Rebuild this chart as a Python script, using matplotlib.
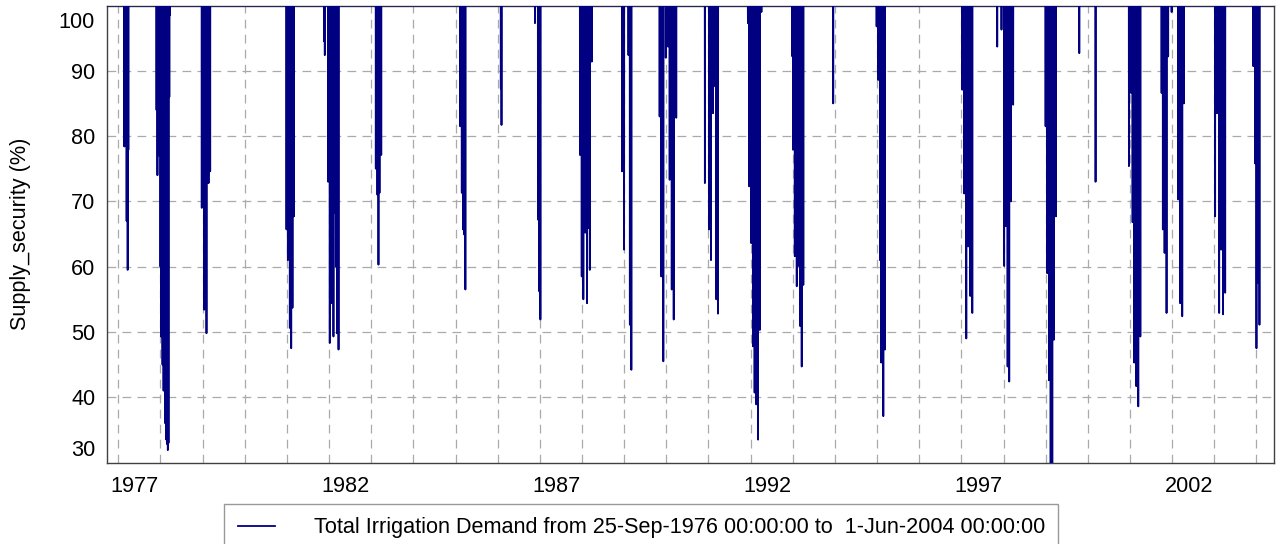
"""Supply security of the total irrigation demand, Sep 1976 - Jun 2004."""

import matplotlib
import numpy as np
import pandas as pd

matplotlib.use("Agg")
import matplotlib.dates as mdates
import matplotlib.pyplot as plt
from matplotlib.ticker import NullFormatter

plt.rcParams["font.family"] = ["Liberation Sans", "DejaVu Sans"]

START = "1976-09-25"
END = "2004-06-01"
SERIES_LABEL = "Total Irrigation Demand from 25-Sep-1976 00:00:00 to  1-Jun-2004 00:00:00"

# days on which supply fell below 100 % (all other days are 100 %)
dip_dates = [
    "1977-02-22", "1977-03-02", "1977-03-14", "1977-03-23", "1977-03-29",
    "1977-11-28", "1977-12-06", "1977-12-21", "1978-01-01", "1978-01-07", "1978-01-19",
    "1978-01-28", "1978-02-12", "1978-02-20", "1978-03-01", "1978-03-06", "1978-03-12",
    "1978-03-19", "1978-03-25",
    "1978-12-25", "1979-01-03", "1979-01-15", "1979-01-26", "1979-02-04", "1979-02-13",
    "1979-02-22", "1979-03-08",
    "1980-12-28", "1981-01-09", "1981-01-18", "1981-01-26", "1981-02-07", "1981-02-18",
    "1981-03-02",
    "1981-11-20", "1981-11-25", "1981-12-24", "1982-01-07", "1982-01-19", "1982-01-30",
    "1982-02-08", "1982-02-20", "1982-03-01", "1982-03-10", "1982-03-24",
    "1983-02-10", "1983-02-24", "1983-03-05", "1983-03-14", "1983-03-29",
    "1985-02-10", "1985-02-24", "1985-03-07", "1985-03-18", "1985-03-27",
    "1986-01-28", "1986-02-03",
    "1986-11-20", "1986-12-16", "1986-12-28", "1987-01-06",
    "1987-12-15", "1987-12-30", "1988-01-13", "1988-01-30", "1988-02-14", "1988-02-25",
    "1988-03-09", "1988-03-26",
    "1988-12-13", "1988-12-31", "1989-02-07", "1989-02-19", "1989-03-04",
    "1989-11-04", "1989-11-18", "1989-12-06", "1989-12-27", "1990-01-16", "1990-01-30",
    "1990-02-17", "1990-03-06", "1990-03-28",
    "1990-12-01", "1991-01-06", "1991-01-23", "1991-02-10", "1991-03-01", "1991-03-10",
    "1991-03-25",
    "1991-12-09", "1991-12-20", "1992-01-07", "1992-01-21", "1992-02-05", "1992-02-19",
    "1992-03-06", "1992-03-21", "1992-04-04",
    "1992-12-28", "1993-01-03", "1993-01-18", "1993-02-04", "1993-02-18", "1993-03-05",
    "1993-03-19", "1993-04-02",
    "1993-12-17",
    "1994-12-28", "1995-01-11", "1995-01-26", "1995-02-06", "1995-02-24", "1995-03-10",
    "1997-01-08", "1997-01-25", "1997-02-12", "1997-03-01", "1997-03-18", "1997-04-05",
    "1997-11-07", "1997-12-14", "1998-01-06", "1998-01-21", "1998-02-05", "1998-02-19",
    "1998-03-05", "1998-03-25",
    "1998-12-31", "1999-01-14", "1999-01-29", "1999-02-13", "1999-02-27", "1999-03-13",
    "1999-03-31",
    "1999-10-19", "2000-03-08",
    "2000-12-22", "2001-01-09", "2001-01-23", "2001-02-06", "2001-02-23", "2001-03-13",
    "2001-03-31",
    "2001-10-01", "2001-10-12", "2001-10-27", "2001-11-13", "2001-11-27", "2001-12-27",
    "2002-02-22", "2002-03-11", "2002-03-29", "2002-04-12",
    "2003-01-08", "2003-01-25", "2003-02-12", "2003-03-01", "2003-03-18", "2003-04-05",
    "2003-12-05", "2003-12-20", "2004-01-01", "2004-01-12", "2004-01-27",
]
dip_values = [
    78.4, 78.5, 67.0, 59.5, 77.9,
    84.0, 74.0, 77.0, 60.0, 49.3, 45.0,
    41.0, 36.0, 33.5, 32.8, 31.9, 33.0,
    86.0, 98.5,
    69.0, 80.0, 53.4, 62.0, 49.8, 80.5,
    72.8, 74.6,
    65.7, 61.0, 72.0, 50.6, 47.5, 53.7,
    67.7,
    94.5, 92.4, 73.0, 48.3, 54.4, 88.9,
    49.3, 68.2, 60.0, 49.8, 47.3,
    75.0, 71.0, 60.3, 71.3, 77.1,
    81.5, 71.3, 65.7, 64.9, 56.5,
    87.3, 81.7,
    97.3, 67.2, 56.2, 51.9,
    77.1, 58.5, 55.0, 65.2, 54.4, 65.9,
    59.5, 91.4,
    74.6, 62.6, 92.4, 51.1, 44.2,
    83.0, 58.5, 45.5, 92.0, 93.7, 73.3,
    56.5, 51.9, 82.8,
    72.8, 65.7, 61.0, 83.5, 87.6, 55.0,
    52.8,
    97.3, 72.3, 63.6, 47.8, 40.7, 38.9,
    33.5, 50.3, 99.0,
    92.2, 77.9, 61.6, 57.0, 60.1, 50.9,
    44.7, 57.2,
    85.0,
    96.8, 88.6, 61.0, 45.3, 37.1, 47.3,
    87.1, 71.2, 49.0, 63.1, 55.5, 52.9,
    93.7, 96.3, 60.1, 66.2, 44.7, 42.4,
    70.0, 84.8,
    81.5, 59.0, 42.6, 28.0, 28.5, 48.8,
    67.7,
    92.7, 73.0,
    75.4, 86.6, 66.8, 45.3, 41.7, 38.6,
    49.3,
    86.6, 65.7, 62.1, 52.9, 92.2, 99.0,
    70.3, 54.4, 52.4, 85.0,
    67.7, 83.5, 52.9, 62.6, 52.7, 56.0,
    90.7, 75.8, 47.5, 57.5, 51.1,
]

label_years = [1977, 1982, 1987, 1992, 1997, 2002]
y_ticks = [40, 50, 60, 70, 80, 90]
y_edge_ticks = [100, 30]

FS = 15.6
NAVY = "#000080"
GRID = "#aaaaaa"

days = pd.date_range(START, END, freq="D")
supply = pd.Series(100.0, index=days)
supply.loc[pd.to_datetime(dip_dates)] = dip_values

fig = plt.figure(figsize=(12.76, 5.44), dpi=100)
ax = fig.add_axes([107 / 1276, 1 - 462.5 / 544, 1167 / 1276, 457 / 544])

ax.plot(supply.index, supply.values, color=NAVY, lw=1.3, zorder=3, label=SERIES_LABEL)

ax.set_xlim(pd.Timestamp(START), pd.Timestamp(END))
ax.set_ylim(30, 100)

# gridline every year, labels sit a little to the right of their year line
ax.xaxis.set_major_locator(mdates.YearLocator(1))
ax.xaxis.set_major_formatter(NullFormatter())
ax.set_xticks(mdates.date2num([pd.Timestamp(f"{y}-05-24") for y in label_years]), minor=True)
ax.set_xticklabels([str(y) for y in label_years], minor=True, fontsize=FS)
ax.set_yticks(y_ticks)
ax.set_yticklabels([str(v) for v in y_ticks], fontsize=FS)
ax.tick_params(which="both", length=0)
ax.tick_params(axis="x", which="minor", pad=10)
ax.tick_params(axis="y", pad=8.5)

ax.set_axisbelow(True)
ax.grid(True, which="major", color=GRID, lw=0.9, linestyle=(0, (7, 5)))

# end labels pushed inside the axis range, as in the original
for val, dy in zip(y_edge_ticks, (-14.7, 15.0)):
    ax.annotate(str(val), xy=(0, val), xycoords=("axes fraction", "data"),
                xytext=(-12, dy), textcoords="offset pixels", ha="right",
                va="center_baseline", fontsize=FS, annotation_clip=False)

for side in ("left", "right", "top", "bottom"):
    ax.spines[side].set_color("#404040")
    ax.spines[side].set_linewidth(1.0)

fig.text(21 / 1276, 1 - 234 / 544, "Supply_security (%)", rotation=90,
         ha="center", va="center", fontsize=FS)

leg = ax.legend(loc="upper left", bbox_to_anchor=(224.3 / 1276, 1 - 504 / 544),
                bbox_transform=fig.transFigure, fancybox=False, shadow=False,
                borderpad=0.62, handlelength=1.72, handletextpad=1.78,
                borderaxespad=0, fontsize=FS, framealpha=1.0)
leg.get_frame().set_edgecolor("#999999")
leg.get_frame().set_linewidth(1.0)

fig.savefig("out.png", dpi=100)
plt.close(fig)
